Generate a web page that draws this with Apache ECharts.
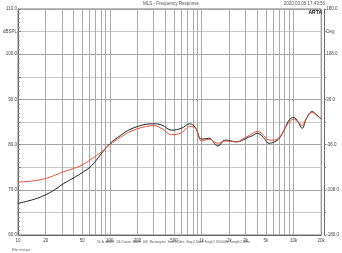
<!DOCTYPE html>
<html><head><meta charset="utf-8">
<script src="https://cdn.jsdelivr.net/npm/echarts@6/dist/echarts.min.js"></script>
<style>html,body{margin:0;padding:0;background:#fff}#c{width:342px;height:253px}</style>
</head><body><div id="c"></div>
<script>
var freqs = [10,15,20,25,31.5,40,50,63,80,100,130,160,200,250,300,370,470,600,740,850,1000,1200,1500,1800,2100,2400,2800,3200,3600,4000,4600,5400,6200,7000,8000,9000,10000,11200,12400,13800,15900,18000,20000];
var blackDb = [67.0,67.9,68.9,70.0,71.4,72.6,73.8,75.3,77.9,80.2,82.0,83.2,84.0,84.5,84.6,84.3,83.2,83.6,84.6,83.8,81.2,81.4,79.7,81.0,80.8,80.6,81.0,81.6,82.0,82.5,81.8,80.3,80.6,81.4,83.5,85.5,86.0,85.0,83.6,85.8,87.3,86.5,85.6];
var redDb = [71.7,72.0,72.5,73.2,74.0,74.7,75.5,76.8,78.3,80.0,81.6,82.7,83.5,84.0,84.2,83.5,82.2,82.6,84.0,83.7,80.8,81.2,80.3,80.8,80.7,80.6,81.3,81.9,82.5,82.9,82.3,81.0,81.0,81.6,83.5,85.0,85.6,85.0,84.3,85.8,87.1,86.4,85.8];
var xLabels = [10,20,50,100,200,500,1000,2000,3000,5000,10000,20000];
var leftLabels = {60:'60.0',70:'70.0',80:'80.0',90:'90.0',100:'100.0',105:'dBSPL',110:'110.0'};
var rightLabels = {'-180':'-180.0','-108':'-108.0','-36':'-36.0','36':'36.0','108':'108.0','144':'Deg','180':'180.0'};
var gridFreqs = [];
for (var d = 10; d <= 10000; d *= 10) { for (var k = 1; k <= 9; k++) { var f = k * d; if (f > 10 && f < 20000) gridFreqs.push(f); } }

var FONT = 'Liberation Sans';
var chart = echarts.init(document.getElementById('c'), null, {renderer:'canvas'});
function pairs(ys){ return freqs.map(function(f,i){ return [f, ys[i]]; }); }
chart.setOption({
  animation:false,
  textStyle:{fontFamily:FONT},
  grid:{left:13,right:18,top:9,bottom:18,show:true,borderColor:'#777',borderWidth:1,backgroundColor:'#fff'},
  xAxis:{type:'log',logBase:10,min:10,max:20000,
    axisLine:{show:true,onZero:false,lineStyle:{color:'#666'}},
    axisTick:{show:false},
    splitLine:{show:false},
    axisLabel:{customValues:xLabels,fontSize:4.5,color:'#444',margin:3,fontFamily:FONT,
      formatter:function(v){ return v>=1000 ? (v/1000)+'k' : String(v); }}
  },
  yAxis:[{type:'value',min:60,max:110,interval:5,position:'left',
    axisLine:{show:true,lineStyle:{color:'#666'}},
    axisTick:{show:true,inside:true,length:3,lineStyle:{color:'#888'}},
    minorTick:{show:true,splitNumber:5,length:2,lineStyle:{color:'#999'}},
    splitLine:{show:true,lineStyle:{color:['#a4a4a4','#c8c8c8'],width:1}},
    axisLabel:{fontSize:4.5,color:'#444',margin:1,fontFamily:FONT,
      formatter:function(v){ return leftLabels[v] || ''; }}
  },{type:'value',min:-180,max:180,interval:36,position:'right',offset:3,
    axisLine:{show:true,lineStyle:{color:'#666'}},
    axisTick:{show:true,inside:false,length:2,lineStyle:{color:'#888'}},
    minorTick:{show:true,splitNumber:4,length:1,lineStyle:{color:'#999'}},
    splitLine:{show:false},
    axisLabel:{fontSize:4.5,color:'#444',margin:2,fontFamily:FONT,
      formatter:function(v){ return rightLabels[String(v)] || ''; }}
  }],
  series:[
    {type:'line',name:'black',data:pairs(blackDb),smooth:0.4,symbol:'none',
     lineStyle:{color:'#222',width:1},z:3,
     markLine:{silent:true,symbol:'none',z:1,label:{show:false},
       lineStyle:{color:'#ababab',type:'solid',width:1},
       data:gridFreqs.map(function(f){ return {xAxis:f}; })}},
    {type:'line',name:'red',data:pairs(redDb),smooth:0.4,symbol:'none',
     lineStyle:{color:'#e2543f',width:1},z:4}
  ],
  graphic:[
    {type:'text',left:'center',top:1,style:{text:'MLS - Frequency Response',fontSize:4.5,fill:'#555',fontFamily:FONT}},
    {type:'text',right:17,top:1,style:{text:'2020.03.05 17:43:56',fontSize:4.5,fill:'#555',fontFamily:FONT}},
    {type:'text',right:20,top:10,style:{text:'ARTA',fontSize:5,fontWeight:'bold',fill:'#111',fontFamily:FONT}},
    {type:'text',left:97,top:241,style:{text:'Ch A  dBSPL  1/6 Octave  48kHz  16K  Rectangular  Start 2.50ms  Stop 2.50ms  FreqLO 200.00Hz  Length 2.50ms',fontSize:3,fill:'#555',fontFamily:FONT}},
    {type:'text',left:12,top:248,style:{text:'File: test.pir',fontSize:3.5,fill:'#555',fontFamily:FONT}}
  ]
});
</script></body></html>
